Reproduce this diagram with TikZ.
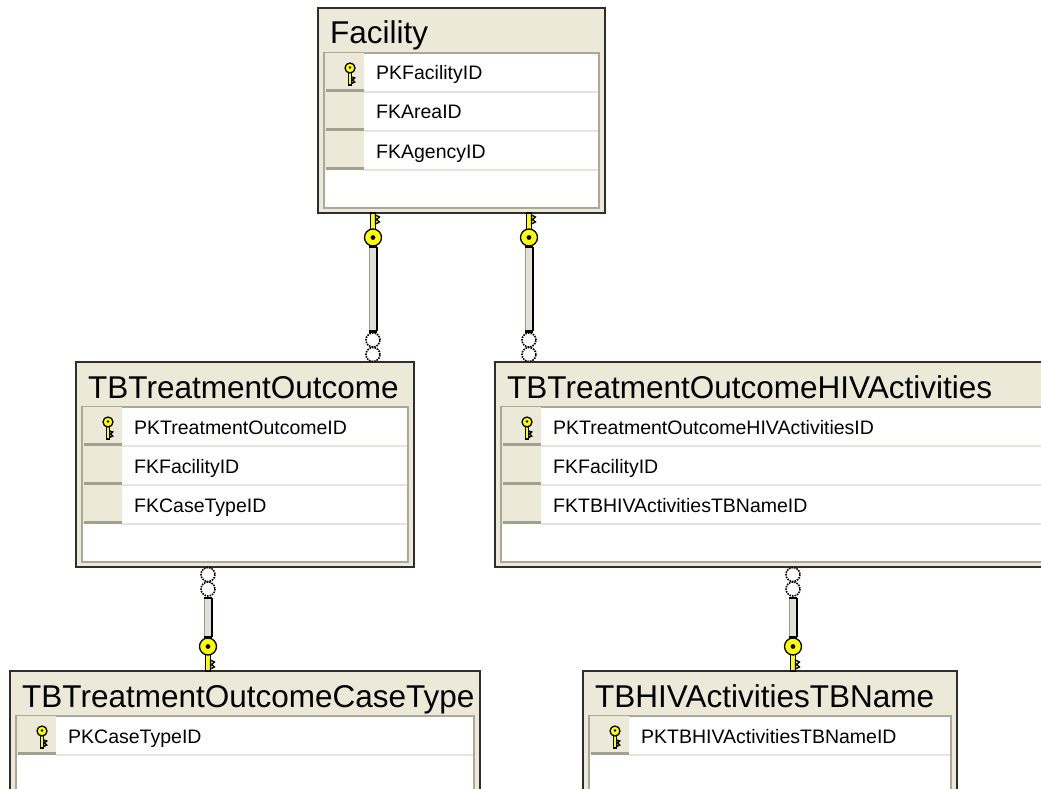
\documentclass[tikz,border=0pt]{standalone}
\usepackage{fontspec}
\setmainfont{Liberation Sans}
\usepackage{xcolor}
\usetikzlibrary{calc,positioning}

\definecolor{erdbeige}{HTML}{ECE9D8}
\definecolor{erdborder}{HTML}{2E2E2E}
\definecolor{erdpanel}{HTML}{ACA899}
\definecolor{erdgutline}{HTML}{A3A08F}
\definecolor{erdrowline}{HTML}{E6E4D8}
\definecolor{erdbar}{HTML}{E2E0D6}
\definecolor{erdbarside}{HTML}{9E9B8E}
\definecolor{keyyellow}{HTML}{FFFF00}

\tikzset{
  smallkey/.pic={
    \filldraw[keyfill] (-1.7,-2) rectangle (1.7,11);
    \filldraw[keyfill] (1.7,3) -- (4.8,4) -- (2.7,6) -- (4.8,8) -- (1.7,9.5) -- cycle;
    \filldraw[keyfill] (0,-6) circle (5);
    \fill[black] (0,-6.5) circle (1.4);
  },
  bigkey/.pic={
    \filldraw[keyfill] (-2.5,0) rectangle (2.5,18);
    \filldraw[keyfill] (2.5,2) -- (6.5,4) -- (3.5,6.5) -- (6.5,9) -- (2.5,11) -- cycle;
    \filldraw[keyfill] (0,24.5) circle (8.5);
    \fill[black] (0,24.5) circle (2.4);
    \fill[black] (-3.8,32.5) rectangle (3.8,35);
  },
  fkrings/.pic={
    \draw[ring] (0,7.5) circle (7);
    \draw[ring] (0,22) circle (7);
    \fill[black] (-3.8,29.5) rectangle (3.8,32);
  }
}

% table: name, left, top, right, rows, title, fields
\newcommand{\dbtable}[7]{
  \pgfmathsetmacro{\tblbot}{#3+45+39*#5+43}
  \node[tablebox, anchor=north west, minimum width={(#4-#2)*1pt}, minimum height={(\tblbot-#3)*1pt}] (#1) at (#2,#3) {};
  \node[tabletitle] (#1-title) at (#2+12,#3+36) {#6};
  \draw[panel] (#2+6,#3+45) rectangle (#4-6,\tblbot-5);
  \foreach \fld [count=\i] in {#7} {
    \pgfmathsetmacro{\rowtop}{#3+45+39*(\i-1)}
    \fill[gutter] (#2+7,\rowtop) rectangle (#2+46,\rowtop+39);
    \draw[gutline] (#2+8,\rowtop+37.5) -- (#2+46,\rowtop+37.5);
    \draw[rowline] (#2+46,\rowtop+39) -- (#4-7,\rowtop+39);
    \node[fieldtext] (#1-\i) at (#2+58,\rowtop+27) {\fld};
  }
  \pic at (#2+32,#3+66) {smallkey};
}

\begin{document}
\begin{tikzpicture}[x=1pt, y=-1pt,
    tablebox/.style={draw=erdborder, fill=erdbeige, line width=2pt, outer sep=0pt, inner sep=0pt},
    tabletitle/.style={anchor=base west, inner sep=0pt, font=\fontsize{31.5pt}{36pt}\selectfont},
    fieldtext/.style={anchor=base west, inner sep=0pt, font=\fontsize{19.5pt}{22pt}\selectfont},
    panel/.style={draw=erdpanel, fill=white, line width=1.5pt},
    gutter/.style={fill=erdbeige},
    gutline/.style={draw=erdgutline, line width=2.5pt},
    rowline/.style={draw=erdrowline, line width=1.5pt},
    keyfill/.style={fill=keyyellow, draw=black, line width=1.3pt},
    ring/.style={draw=black, fill=white, densely dotted, line width=1.6pt},
    relbar/.style={line width=9pt, draw=erdbar,
      postaction={draw=black, line width=1.8pt, transform canvas={xshift=3.6pt}},
      postaction={draw=erdbarside, line width=1.3pt, transform canvas={xshift=-3.8pt}}}]

    % Canvas
    \useasboundingbox (0,0) rectangle (1041,789);
    \clip (0,0) rectangle (1041,789);

    % Tables
    \dbtable{facility}{318}{8}{605}{3}{Facility}{PKFacilityID,FKAreaID,FKAgencyID}
    \dbtable{tto}{76}{362}{414}{3}{TBTreatmentOutcome}{PKTreatmentOutcomeID,FKFacilityID,FKCaseTypeID}
    \dbtable{hiv}{495}{362}{1060}{3}{TBTreatmentOutcomeHIVActivities}{PKTreatmentOutcomeHIVActivitiesID,FKFacilityID,FKTBHIVActivitiesTBNameID}
    \dbtable{casetype}{10}{671}{480}{1}{TBTreatmentOutcomeCaseType}{PKCaseTypeID}
    \dbtable{tbname}{583}{671}{957}{1}{TBHIVActivitiesTBName}{PKTBHIVActivitiesTBNameID}

    % Relationship columns
    \coordinate (r1) at (373,0);
    \coordinate (r2) at (529,0);
    \coordinate (r3) at (208,0);
    \coordinate (r4) at (793,0);

    % Facility -> TBTreatmentOutcome
    \draw[relbar] ($(facility.south -| r1)+(0,34)$) -- ($(tto.north -| r1)+(0,-31)$);
    \pic at (facility.south -| r1) {bigkey};
    \pic[yscale=-1] at (tto.north -| r1) {fkrings};

    % Facility -> TBTreatmentOutcomeHIVActivities
    \draw[relbar] ($(facility.south -| r2)+(0,34)$) -- ($(hiv.north -| r2)+(0,-31)$);
    \pic at (facility.south -| r2) {bigkey};
    \pic[yscale=-1] at (hiv.north -| r2) {fkrings};

    % TBTreatmentOutcomeCaseType -> TBTreatmentOutcome
    \draw[relbar] ($(tto.south -| r3)+(0,31)$) -- ($(casetype.north -| r3)+(0,-34)$);
    \pic at (tto.south -| r3) {fkrings};
    \pic[yscale=-1] at (casetype.north -| r3) {bigkey};

    % TBHIVActivitiesTBName -> TBTreatmentOutcomeHIVActivities
    \draw[relbar] ($(hiv.south -| r4)+(0,31)$) -- ($(tbname.north -| r4)+(0,-34)$);
    \pic at (hiv.south -| r4) {fkrings};
    \pic[yscale=-1] at (tbname.north -| r4) {bigkey};
\end{tikzpicture}
\end{document}
